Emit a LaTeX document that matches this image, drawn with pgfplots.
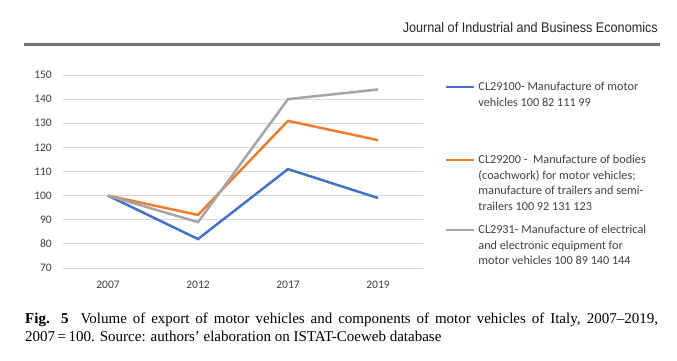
\documentclass[border=0pt]{standalone}
\usepackage{fontspec}
\setmainfont{Liberation Serif}
\newfontfamily\calibri{Carlito}
\newfontfamily\headfont{Liberation Sans}
\usepackage{pgfplots}
\pgfplotsset{compat=1.18}
\definecolor{xlblue}{HTML}{4472C4}
\definecolor{xlorange}{HTML}{ED7D31}
\definecolor{xlgray}{HTML}{A5A5A5}
\definecolor{txtgray}{HTML}{404040}
\newcommand\lent[2]{\begin{tabular}[b]{@{}l@{}}\rule{0pt}{#2}#1\end{tabular}}
\begin{document}
\begin{tikzpicture}[x=1pt,y=1pt]
\useasboundingbox (0,0) rectangle (677,361);
% header
\node[anchor=base east, inner sep=0pt, text=black!85] at (658,328)
  {\resizebox{255pt}{\height}{\headfont\fontsize{14}{16}\selectfont Journal of Industrial and Business Economics}};
\draw[black!55, line width=3.5pt] (24,316.3) -- (660,316.3);
% chart
\begin{axis}[
  at={(63pt,93pt)}, anchor=south west,
  scale only axis, width=360pt, height=193pt,
  xmin=-0.5, xmax=3.5, ymin=70, ymax=150,
  axis line style={draw=none},
  xtick={0,1,2,3}, xticklabels={2007,2012,2017,2019},
  ytick={70,80,...,150},
  major tick length=0pt,
  ymajorgrids, grid style={color=black!15, line width=0.9pt},
  tick label style={font=\calibri\fontsize{11.5}{13}\selectfont, text=txtgray, inner sep=0pt},
  /pgf/number format/assume math mode=true,
  yticklabel style={anchor=east, xshift=-11pt},
  xticklabel style={anchor=north, yshift=-13pt},
  legend style={at={(1.0611,0.9749)}, anchor=north west, draw=none, fill=none,
    inner sep=0pt, outer sep=0pt, row sep=0pt, column sep=3pt,
    nodes={anchor=base west, inner sep=0pt, text=txtgray,
      font=\calibri\fontsize{12.2}{15.5}\selectfont}},
  legend image code/.code={\draw[#1] (0pt,3.5pt) -- (28pt,3.5pt);},
]
\addplot[xlblue, line width=2.5pt, forget plot] coordinates {(0,100) (1,82) (2,111) (3,99)};
\addplot[xlorange, line width=2.5pt, forget plot] coordinates {(0,100) (1,92) (2,131) (3,123)};
\addplot[xlgray, line width=2.5pt, forget plot] coordinates {(0,100) (1,89) (2,140) (3,144)};
\addlegendimage{xlblue, line width=2.5pt, yshift=15.5pt}
\addlegendentry{\lent{CL29100- Manufacture of motor\\vehicles 100 82 111 99}{10pt}}
\addlegendimage{xlorange, line width=2.5pt, yshift=46.5pt}
\addlegendentry{\lent{CL29200 -\ \ Manufacture of bodies\\(coachwork) for motor vehicles;\\manufacture of trailers and semi-\\trailers 100 92 131 123}{56pt}}
\addlegendimage{xlgray, line width=2.5pt, yshift=31pt}
\addlegendentry{\lent{CL2931- Manufacture of electrical\\and electronic equipment for\\motor vehicles 100 89 140 144}{21.9pt}}
\end{axis}
% caption
\node[anchor=base west, inner sep=0pt, text width=633pt, align=justify,
  font=\fontsize{15}{18}\selectfont] at (25,37.5)
  {\textbf{Fig. 5}\ \ Volume of export of motor vehicles and components of motor vehicles of Italy, 2007--2019, 2007\,=\,100. Source: authors' elaboration on ISTAT-Coeweb database};
\end{tikzpicture}
\end{document}
